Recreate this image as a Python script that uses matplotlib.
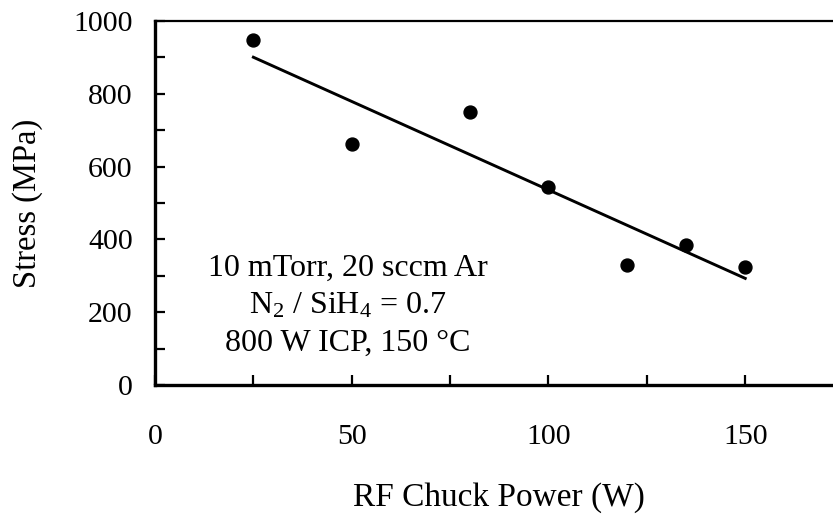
import numpy as np
import matplotlib
matplotlib.use("Agg")
import matplotlib.pyplot as plt
from matplotlib.ticker import MultipleLocator

plt.rcParams['font.family'] = ['Liberation Serif', 'DejaVu Serif']
plt.rcParams['mathtext.fontset'] = 'custom'
plt.rcParams['mathtext.rm'] = 'Liberation Serif'
plt.rcParams['mathtext.default'] = 'regular'

# Data
power_w = [25, 50, 80, 100, 120, 135, 150]
stress_mpa = [948, 663, 750, 545, 330, 385, 325]
annotation_lines = ["10 mTorr, 20 sccm Ar", "N$_2$ / SiH$_4$ = 0.7", "800 W ICP, 150 \u00b0C"]

fig = plt.figure(figsize=(8.33, 5.15), dpi=100)
ax = fig.add_axes([155/833, 1-385/515, 688.6/833, 364/515])

ax.plot(power_w, stress_mpa, 'o', color='black', markersize=9.3, zorder=3)
coef = np.polyfit(power_w, stress_mpa, 1)
xf = np.array([min(power_w), max(power_w)])
ax.plot(xf, np.polyval(coef, xf), color='black', linewidth=2.1)

ax.set_xlim(0, 175)
ax.set_ylim(0, 1000)
ax.xaxis.set_major_locator(MultipleLocator(50))
ax.xaxis.set_minor_locator(MultipleLocator(25))
ax.yaxis.set_major_locator(MultipleLocator(200))
ax.yaxis.set_minor_locator(MultipleLocator(100))
ax.tick_params(which='both', direction='in', length=7, width=1.6)
ax.tick_params(axis='x', which='both', pad=28, labelsize=21.5)
ax.tick_params(axis='y', which='both', pad=16, labelsize=21.5)
ax.tick_params(which='both', top=False, right=False)

ax.spines['left'].set_linewidth(2.4)
ax.spines['bottom'].set_linewidth(2.4)
ax.spines['top'].set_linewidth(1.6)

ax.set_xlabel("RF Chuck Power (W)", fontsize=24, labelpad=23)
ax.set_ylabel("Stress (MPa)", fontsize=23.5, labelpad=22)

ax.text(49, 218, "\n".join(annotation_lines), ha='center', va='center',
        fontsize=23, linespacing=1.38)

fig.savefig("out.png", dpi=100)
